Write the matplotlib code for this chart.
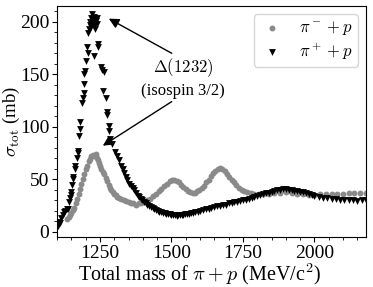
import matplotlib
matplotlib.use("Agg")
import matplotlib.pyplot as plt
from matplotlib.ticker import MultipleLocator

plt.rcParams["font.family"] = "serif"
plt.rcParams["font.serif"] = ["Liberation Serif", "DejaVu Serif"]
plt.rcParams["mathtext.fontset"] = "cm"
plt.rcParams["font.size"] = 14

# pi^- + p total cross section (mass in MeV/c^2, sigma in mb)
m_minus = [1135, 1140, 1145, 1150, 1155, 1160, 1165, 1170, 1175, 1180, 1185, 1190,
           1195, 1200, 1205, 1210, 1215, 1220, 1225, 1230, 1235, 1238, 1242, 1246,
           1250, 1255, 1260, 1265, 1270, 1275, 1280, 1285, 1290, 1295, 1300, 1305,
           1310, 1317, 1325, 1333, 1341, 1350, 1358, 1366, 1375, 1385, 1395, 1405,
           1415, 1425, 1435, 1445, 1455, 1465, 1475, 1485, 1495, 1502, 1510, 1518,
           1526, 1534, 1542, 1550, 1558, 1566, 1574, 1582, 1590, 1598, 1606, 1614,
           1622, 1630, 1638, 1646, 1654, 1662, 1670, 1678, 1686, 1694, 1702, 1710,
           1718, 1726, 1735, 1745, 1755, 1765, 1778, 1790, 1805, 1820, 1840, 1860,
           1880, 1900, 1920, 1940, 1960, 1980, 2000, 2020, 2040, 2060, 2080, 2100,
           2120, 2140, 2160, 2180]
s_minus = [12, 14, 16, 18, 21, 23, 27, 31, 36, 41, 46, 50,
           55, 60, 63, 67, 69, 72, 73, 72, 74, 70, 68, 66,
           63, 60, 57, 55, 51, 48, 45, 42, 40, 38, 36, 35,
           33, 32, 31, 30, 29, 28, 27, 27, 26, 27, 27, 28,
           30, 31, 34, 36, 39, 41, 44, 46, 48, 49, 49, 48,
           47, 45, 43, 41, 39, 38, 37, 37, 39, 40, 42, 44,
           47, 49, 53, 56, 58, 60, 61, 60, 58, 55, 52, 49,
           47, 45, 42, 40, 39, 38, 37, 36, 36, 36, 36, 37,
           37, 38, 37, 36, 36, 35, 35, 36, 36, 36, 36, 36,
           37, 37, 37, 37]

# pi^+ + p total cross section
m_plus = [1104, 1108, 1111, 1115, 1120, 1125, 1128, 1133, 1137, 1142, 1146, 1149,
          1150, 1153, 1155, 1157, 1162, 1164, 1168, 1172, 1173, 1178, 1180, 1181,
          1187, 1190, 1193, 1195, 1195, 1197, 1200, 1205, 1207, 1209, 1212, 1214,
          1216, 1218, 1220, 1222, 1224, 1226, 1228, 1228, 1230, 1232, 1235, 1238,
          1240, 1242, 1244, 1253, 1256, 1262, 1265, 1271, 1274, 1276, 1282, 1283,
          1286, 1293, 1303, 1310, 1317, 1323, 1329, 1335, 1341, 1346, 1352, 1358,
          1364, 1370, 1376, 1382, 1388, 1393, 1398, 1404, 1410, 1416, 1422, 1428,
          1434, 1440, 1446, 1452, 1458, 1464, 1470, 1476, 1482, 1488, 1494, 1500,
          1506, 1512, 1518, 1524, 1530, 1536, 1542, 1548, 1554, 1560, 1568, 1576,
          1584, 1592, 1600, 1610, 1620, 1630, 1640, 1650, 1660, 1670, 1680, 1690,
          1700, 1710, 1720, 1730, 1740, 1750, 1760, 1770, 1780, 1790, 1800, 1810,
          1820, 1830, 1840, 1850, 1860, 1870, 1880, 1890, 1900, 1910, 1920, 1930,
          1940, 1950, 1960, 1970, 1980, 1990, 2000, 2015, 2030, 2045, 2060, 2075,
          2090, 2105, 2120, 2135, 2150, 2165, 2180]
s_plus = [6, 9, 8, 13, 16, 19, 20, 22, 22, 28, 32, 35,
          38, 45, 50, 52, 60, 63, 70, 75, 77, 91, 98, 105,
          123, 127, 132, 141, 150, 153, 163, 176, 170, 189, 193, 197,
          200, 195, 204, 207, 199, 202, 196, 167, 205, 193, 201, 204,
          198, 179, 176, 157, 154, 134, 152, 127, 114, 111, 101, 96,
          88, 84, 76, 72, 68, 63, 60, 56, 52, 49, 46, 44,
          42, 40, 37, 34, 33, 31, 30, 28, 27, 26, 25, 24,
          23, 22, 21, 20, 19, 19, 18, 18, 17, 17, 17, 16,
          16, 16, 15, 16, 16, 16, 16, 17, 17, 17, 18, 18,
          19, 19, 20, 21, 22, 22, 23, 24, 25, 25, 26, 26,
          27, 27, 28, 28, 29, 30, 30, 31, 32, 33, 34, 35,
          36, 37, 37, 38, 39, 40, 40, 41, 41, 40, 40, 39,
          39, 38, 38, 37, 36, 35, 34, 33, 32, 32, 31, 31,
          30, 30, 30, 30, 29, 30, 30]

fig = plt.figure(figsize=(3.73, 2.87), dpi=100)
ax = fig.add_axes([0.153, 0.174, 0.828, 0.805])

ax.scatter(m_minus, s_minus, s=18, color="#8a8a8a", marker="o", linewidths=0,
           label=r"$\pi^- + p$", zorder=2)
ax.scatter(m_plus, s_plus, s=24, color="black", marker="v", linewidths=0,
           label=r"$\pi^+ + p$", zorder=3)

ax.set_xlim(1100, 2180)
ax.set_ylim(-5, 215)
ax.xaxis.set_major_locator(MultipleLocator(250))
ax.xaxis.set_minor_locator(MultipleLocator(50))
ax.yaxis.set_major_locator(MultipleLocator(50))
ax.yaxis.set_minor_locator(MultipleLocator(10))
ax.tick_params(axis="both", which="major", pad=2)

ax.set_xlabel(r"Total mass of $\pi + p$ (MeV/c$^2$)", fontsize=14.5)
ax.xaxis.set_label_coords(0.463, -0.105)
ax.set_ylabel(r"$\sigma_{\rm tot}$ (mb)", fontsize=13.5)
ax.yaxis.set_label_coords(-0.115, 0.5)

ax.text(1540, 147, "$\\Delta(1232)$\n(isospin 3/2)", ha="center", va="center",
        fontsize=12, linespacing=1.3)
ax.annotate("", xy=(1281, 203), xytext=(1501, 170),
            arrowprops=dict(arrowstyle="-|>", color="black", mutation_scale=15,
                            shrinkA=0, shrinkB=0, lw=1))
ax.annotate("", xy=(1260, 82), xytext=(1501, 124),
            arrowprops=dict(arrowstyle="-|>", color="black", mutation_scale=15,
                            shrinkA=0, shrinkB=0, lw=1))

ax.legend(loc="upper right", fontsize=12, borderpad=0.3, labelspacing=0.2,
          handlelength=1.6)

fig.savefig("out.png", dpi=100)
